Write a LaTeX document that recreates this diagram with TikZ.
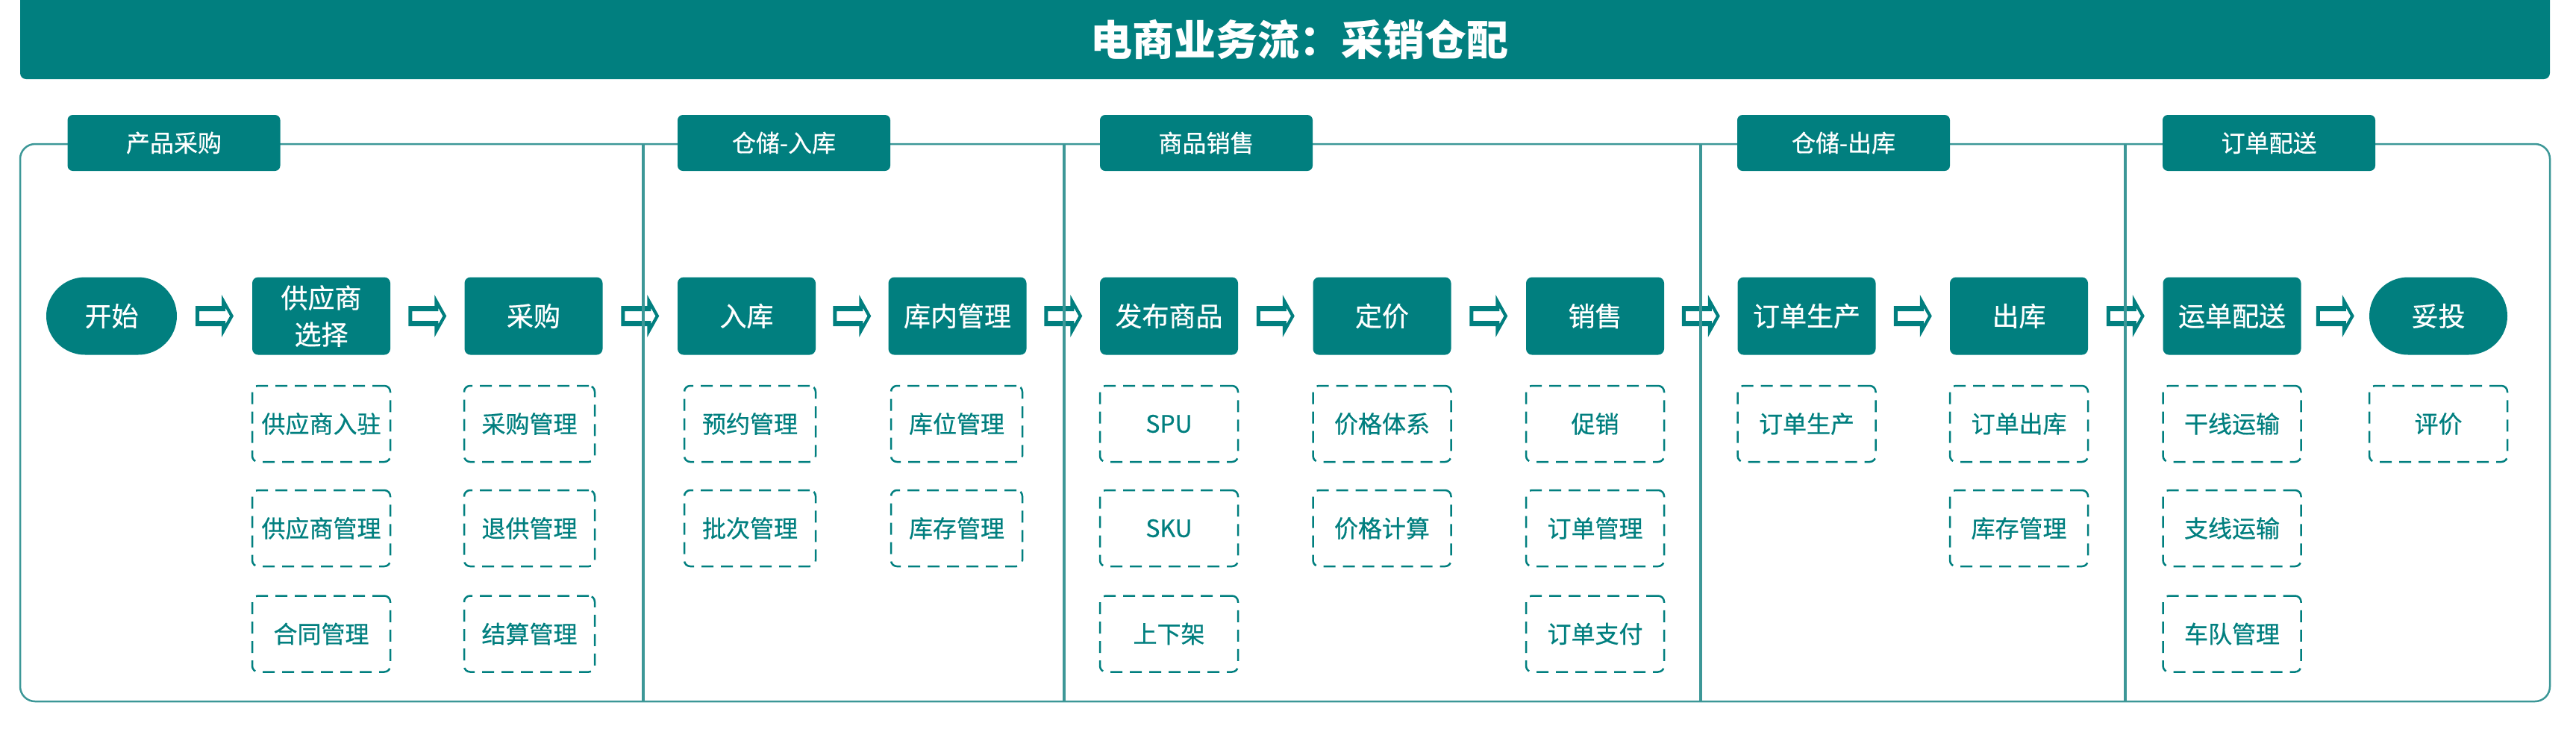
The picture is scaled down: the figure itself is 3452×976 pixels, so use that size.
\documentclass[tikz,border=0pt]{standalone}
\usepackage{fontspec}
\setmainfont{Noto Sans CJK SC}
\newfontfamily\medcjk{Noto Sans CJK SC}[FakeBold=0.6]
\usetikzlibrary{calc}
\definecolor{tealmain}{HTML}{017F7F}
\definecolor{tealline}{HTML}{3C9797}
\tikzset{
  mainbox/.style={fill=tealmain, text=white, rounded corners=4pt, minimum width=92.5pt, minimum height=52pt, inner sep=0pt, align=center, font=\medcjk\fontsize{18}{24.5}\selectfont},
  termbox/.style={mainbox, rounded corners=26pt},
  subbox/.style={draw=tealmain, line width=1.25pt, dash pattern=on 8pt off 5pt, rounded corners=4pt, text=tealmain, minimum width=92.5pt, minimum height=51pt, inner sep=0pt, font=\medcjk\fontsize{16}{20}\selectfont},
  tabbox/.style={fill=tealmain, text=white, rounded corners=3.5pt, minimum width=142.5pt, minimum height=37.5pt, inner sep=0pt, font=\medcjk\fontsize{16}{20}\selectfont},
  framestroke/.style={draw=tealline, line width=1.25pt},
  dividerline/.style={draw=tealline, line width=1.75pt},
  arrowfill/.style={fill=tealmain, even odd rule},
  titletext/.style={text=white, font=\fontsize{28}{32}\selectfont\bfseries, inner sep=0pt},
}
\newcommand\flowarrow[2]{%
  \path[arrowfill] ($(#1.east)!0.5!(#2.west)$) ++(-25.5,-13.5) -- ++(35,0) -- ++(0,-15) -- ++(16,28.5) -- ++(-16,28.5) -- ++(0,-15) -- ++(-35,0) -- cycle
  ($(#1.east)!0.5!(#2.west)$) ++(-20.5,-6.5) -- ++(35,0) -- ++(0,-4.5) -- ++(6.2,11) -- ++(-6.2,11) -- ++(0,-4.5) -- ++(-35,0) -- cycle;}
\begin{document}
\begin{tikzpicture}[x=0.5pt,y=-0.5pt]
\useasboundingbox (0,0) rectangle (3452,976);
% title bar
\fill[tealmain, rounded corners=4pt] (27,-10) rectangle (3417,106);
\node[titletext] (title) at (1741,53) {电商业务流：采销仓配};
% frame
\draw[framestroke, rounded corners=10pt] (27,193) rectangle (3417,940);
% tabs
\node[tabbox] (tab1) at (233,191.5) {产品采购};
\node[tabbox] (tab2) at (1050.5,191.5) {仓储-入库};
\node[tabbox] (tab3) at (1616.5,191.5) {商品销售};
\node[tabbox] (tab4) at (2470.5,191.5) {仓储-出库};
\node[tabbox] (tab5) at (3040.5,191.5) {订单配送};
% main row
\node[termbox, minimum width=87.5pt] (n0) at (149.5,423.5) {开始};
\node[mainbox] (n1) at (430.5,423.5) {供应商\\选择};
\node[mainbox] (n2) at (715,423.5) {采购};
\node[mainbox] (n3) at (1000.5,423.5) {入库};
\node[mainbox] (n4) at (1283,423.5) {库内管理};
\node[mainbox] (n5) at (1566.5,423.5) {发布商品};
\node[mainbox] (n6) at (1852,423.5) {定价};
\node[mainbox] (n7) at (2137.5,423.5) {销售};
\node[mainbox] (n8) at (2421,423.5) {订单生产};
\node[mainbox] (n9) at (2705.5,423.5) {出库};
\node[mainbox] (n10) at (2991,423.5) {运单配送};
\node[termbox] (n11) at (3267.5,423.5) {妥投};
% arrows
\flowarrow{n0}{n1}
\flowarrow{n1}{n2}
\flowarrow{n2}{n3}
\flowarrow{n3}{n4}
\flowarrow{n4}{n5}
\flowarrow{n5}{n6}
\flowarrow{n6}{n7}
\flowarrow{n7}{n8}
\flowarrow{n8}{n9}
\flowarrow{n9}{n10}
\flowarrow{n10}{n11}
% dividers
\draw[dividerline] (862,193) -- (862,940);
\draw[dividerline] (1426,193) -- (1426,940);
\draw[dividerline] (2279,193) -- (2279,940);
\draw[dividerline] (2848,193) -- (2848,940);
% sub boxes
\node[subbox] (s1a) at (430.5,568) {供应商入驻};
\node[subbox] (s1b) at (430.5,708) {供应商管理};
\node[subbox] (s1c) at (430.5,849.5) {合同管理};
\node[subbox, minimum width=87.5pt] (s2a) at (709.5,568) {采购管理};
\node[subbox, minimum width=87.5pt] (s2b) at (709.5,708) {退供管理};
\node[subbox, minimum width=87.5pt] (s2c) at (709.5,849.5) {结算管理};
\node[subbox, minimum width=88pt] (s3a) at (1005,568) {预约管理};
\node[subbox, minimum width=88pt] (s3b) at (1005,708) {批次管理};
\node[subbox, minimum width=88pt] (s4a) at (1282,568) {库位管理};
\node[subbox, minimum width=88pt] (s4b) at (1282,708) {库存管理};
\node[subbox] (s5a) at (1566.5,568) {SPU};
\node[subbox] (s5b) at (1566.5,708) {SKU};
\node[subbox] (s5c) at (1566.5,849.5) {上下架};
\node[subbox] (s6a) at (1852,568) {价格体系};
\node[subbox] (s6b) at (1852,708) {价格计算};
\node[subbox] (s7a) at (2137.5,568) {促销};
\node[subbox] (s7b) at (2137.5,708) {订单管理};
\node[subbox] (s7c) at (2137.5,849.5) {订单支付};
\node[subbox] (s8a) at (2421,568) {订单生产};
\node[subbox] (s9a) at (2705.5,568) {订单出库};
\node[subbox] (s9b) at (2705.5,708) {库存管理};
\node[subbox] (s10a) at (2991,568) {干线运输};
\node[subbox] (s10b) at (2991,708) {支线运输};
\node[subbox] (s10c) at (2991,849.5) {车队管理};
\node[subbox] (s11a) at (3267.5,568) {评价};
\end{tikzpicture}
\end{document}
